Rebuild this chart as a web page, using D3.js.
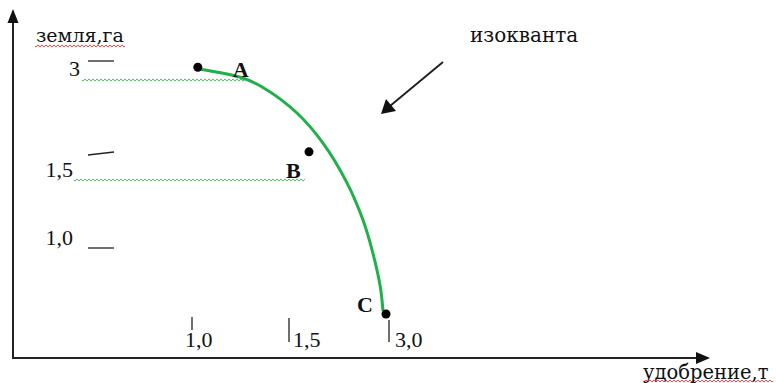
<!DOCTYPE html>
<html>
<head>
<meta charset="utf-8">
<script src="https://cdn.jsdelivr.net/npm/d3@7"></script>
<style>
  html, body { margin: 0; padding: 0; background: #fff; }
  svg { display: block; }
  text { font-family: "DejaVu Serif", "Liberation Serif", serif; fill: #111; }
  text.num { font-family: "Liberation Serif", "Times New Roman", serif; }
</style>
</head>
<body>
<svg id="chart" width="776" height="383"></svg>
<script>
// ---- data ----
const xTickValues = [1.0, 1.5, 3.0];
const xTickLabels = ["1,0", "1,5", "3,0"];
const yTickValues = [3.0, 1.5, 1.0];
const yTickLabels = ["3", "1,5", "1,0"];
const pointNames = ["A", "B", "C"];
const pointX = [1.03, 1.80, 2.955];
const pointY = [2.90, 1.55, 0.645];
const isoquantX = [1.04, 1.25, 1.37, 1.62, 2.01, 2.37, 2.61, 2.76, 2.87, 2.91];
const isoquantY = [2.87, 2.74, 2.57, 2.17, 1.69, 1.35, 1.15, 0.97, 0.79, 0.66];
const xAxisTitle = "удобрение,т";
const yAxisTitle = "земля,га";
const curveTitle = "изокванта";

// ---- layout ----
const W = 776, H = 383;
const svg = d3.select("#chart");
svg.append("rect").attr("width", W).attr("height", H).attr("fill", "#fff");

const x = d3.scaleLinear().domain([1.0, 1.5, 3.0]).range([192, 289, 389]);
const y = d3.scaleLinear().domain([1.0, 1.5, 3.0]).range([248, 155, 61]);

const axisColor = "#222";
const originX = 13, originY = 358;

// wavy underline helper
function wavy(x0, x1, yy, color) {
  const pts = [];
  for (let t = x0; t <= x1; t += 1) {
    pts.push([t, yy + 1.1 * Math.sin((t - x0) * Math.PI / 2)]);
  }
  svg.append("path")
    .attr("d", d3.line()(pts))
    .attr("fill", "none")
    .attr("stroke", color)
    .attr("stroke-width", 1)
    .attr("opacity", 0.85);
}

// axes frame
svg.append("line").attr("x1", originX).attr("y1", originY + 1).attr("x2", originX).attr("y2", 20)
  .attr("stroke", axisColor).attr("stroke-width", 2);
svg.append("path").attr("d", `M${originX},9 L${originX - 5.5},23 L${originX + 5.5},23 Z`).attr("fill", "#111");
svg.append("line").attr("x1", originX - 1).attr("y1", originY).attr("x2", 700).attr("y2", originY)
  .attr("stroke", axisColor).attr("stroke-width", 2);
svg.append("path").attr("d", `M710,${originY} L696,${originY - 6} L696,${originY + 6} Z`).attr("fill", "#111");

// wavy spell-check underlines
wavy(82, 246, 80, "#3cb44b");
wavy(74, 305, 180, "#3cb44b");
wavy(35, 125, 46, "#e53030");
wavy(643, 773, 381, "#e53030");

// y ticks (short dashes) and labels
const yLabelShift = [15, 22, -3];
const yLabelRight = [80, 73, 73];
const yDashTilt = [0, -3, 0];
yTickValues.forEach((v, i) => {
  svg.append("line")
    .attr("x1", 88).attr("x2", 114)
    .attr("y1", y(v)).attr("y2", y(v) + yDashTilt[i])
    .attr("stroke", "#222").attr("stroke-width", 1.3);
  svg.append("text")
    .attr("class", "num")
    .attr("x", yLabelRight[i]).attr("y", y(v) + yLabelShift[i])
    .attr("text-anchor", "end")
    .attr("font-size", 22)
    .text(yTickLabels[i]);
});

// x ticks and labels
const xTickTop = [317, 318, 320];
const xLabelDx = [-7, 4, 6];
xTickValues.forEach((v, i) => {
  svg.append("line")
    .attr("x1", x(v)).attr("x2", x(v))
    .attr("y1", xTickTop[i]).attr("y2", i === 0 ? 330 : 342)
    .attr("stroke", "#222").attr("stroke-width", 1.3);
  svg.append("text")
    .attr("class", "num")
    .attr("x", x(v) + xLabelDx[i]).attr("y", 347)
    .attr("font-size", 22)
    .text(xTickLabels[i]);
});

// isoquant curve
const curveData = isoquantX.map((d, i) => [d, isoquantY[i]]);
svg.append("path")
  .attr("d", d3.line().x(d => x(d[0])).y(d => y(d[1])).curve(d3.curveCatmullRom)(curveData))
  .attr("fill", "none")
  .attr("stroke", "#1fb04a")
  .attr("stroke-width", 3);

// points and labels
const labelOffset = [[35, 10], [-23, 26], [-29, -2]];
pointNames.forEach((n, i) => {
  svg.append("circle")
    .attr("cx", x(pointX[i])).attr("cy", y(pointY[i]))
    .attr("r", 4.5).attr("fill", "#000");
  svg.append("text")
    .attr("class", "num")
    .attr("x", x(pointX[i]) + labelOffset[i][0])
    .attr("y", y(pointY[i]) + labelOffset[i][1])
    .attr("font-size", 22)
    .attr("font-weight", "bold")
    .text(n);
});

// axis titles
svg.append("text").attr("x", 36).attr("y", 42).attr("font-size", 19).text(yAxisTitle);
svg.append("text").attr("x", 643).attr("y", 379).attr("font-size", 19.5).text(xAxisTitle);

// annotation
svg.append("text").attr("x", 470).attr("y", 42).attr("font-size", 20).text(curveTitle);
svg.append("line").attr("x1", 443).attr("y1", 62).attr("x2", 390).attr("y2", 106)
  .attr("stroke", "#222").attr("stroke-width", 2);
svg.append("path").attr("d", "M381,114 L386,99 L396,111 Z").attr("fill", "#111");
</script>
</body>
</html>
